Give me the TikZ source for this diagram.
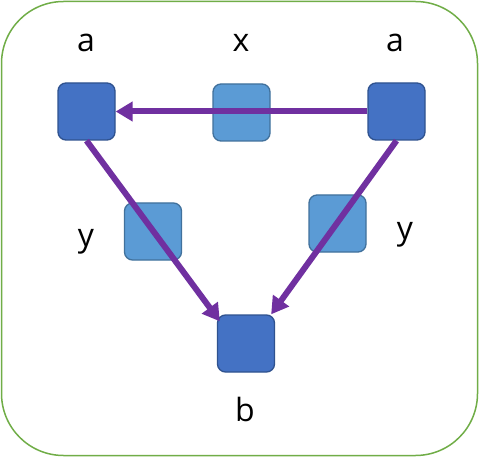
\documentclass[tikz,border=0pt]{standalone}
\usepackage{fontspec}
\setmainfont{Open Sans}
\usetikzlibrary{arrows.meta}
\definecolor{darkfill}{HTML}{4472C4}
\definecolor{darkline}{HTML}{2F528F}
\definecolor{lightfill}{HTML}{5B9BD5}
\definecolor{lightline}{HTML}{41719C}
\definecolor{arrowc}{HTML}{7030A0}
\definecolor{framec}{HTML}{70AD47}
\begin{document}
\begin{tikzpicture}[x=1pt,y=-1pt,
  darkbox/.style={draw=darkline,fill=darkfill,line width=1.3pt,rounded corners=8pt,minimum width=57pt,minimum height=57pt,inner sep=0pt},
  lightbox/.style={draw=lightline,fill=lightfill,line width=1.3pt,rounded corners=8pt,minimum width=57pt,minimum height=57pt,inner sep=0pt},
  lbl/.style={font=\fontsize{32}{38}\selectfont,inner sep=0pt,anchor=base},
  arr/.style={draw=arrowc,line width=6pt,-{Triangle[length=17pt,width=19pt]}}]
\useasboundingbox (0,0) rectangle (479,457);
\draw[framec,line width=1.5pt,fill=white,rounded corners=62pt] (1.5,1.5) rectangle (477.5,455.5);
\node[lightbox] (xm) at (241.5,112.5) {};
\node[lightbox] (yl) at (153,231.5) {};
\node[lightbox] (yr) at (337.5,223.5) {};
\node[darkbox] (a1) at (86.5,111.5) {};
\node[darkbox] (a2) at (396.5,111.5) {};
\node[darkbox] (b) at (246,343.5) {};
\draw[arr] (a2.west) -- (a1.east);
\draw[arr] (a1.south) -- ([xshift=3pt,yshift=-7pt]b.north west);
\draw[arr] (a2.south) -- ([xshift=-4pt]b.north east);
\node[lbl] (la1) at (86,52) {a};
\node[lbl] (lx) at (241,52) {x};
\node[lbl] (la2) at (395,52) {a};
\node[lbl] (ly1) at (86,246) {y};
\node[lbl] (ly2) at (405,239) {y};
\node[lbl] (lb) at (245,421) {b};
\end{tikzpicture}
\end{document}
